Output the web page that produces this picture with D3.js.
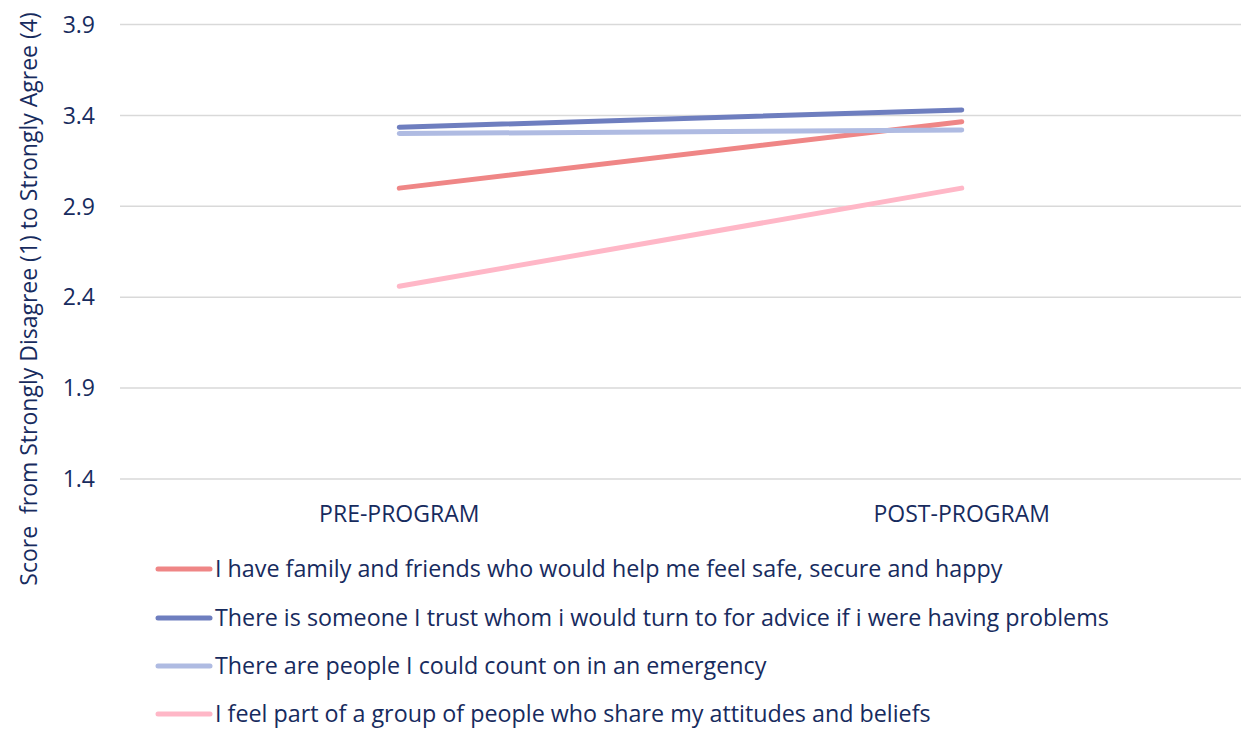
<!DOCTYPE html>
<html>
<head>
<meta charset="utf-8">
<script src="https://cdn.jsdelivr.net/npm/d3@7"></script>
<style>
  html, body { margin: 0; padding: 0; background: #fff; }
  svg text { font-family: "Open Sans", "Noto Sans", sans-serif; fill: #172b5e; }
</style>
</head>
<body>
<script>
// categories and series
const periods = ["PRE-PROGRAM", "POST-PROGRAM"];
const seriesNames = [
  "I have family and friends who would help me feel safe, secure and happy",
  "There is someone I trust whom i would turn to for advice if i were having problems",
  "There are people I could count on in an emergency",
  "I feel part of a group of people who share my attitudes and beliefs",
];
const familyFriends = [3.0, 3.365];
const trustSomeone = [3.335, 3.43];
const countOn = [3.3, 3.32];
const partOfGroup = [2.46, 3.0];
const yTicks = [1.4, 1.9, 2.4, 2.9, 3.4, 3.9];
const colors = ["#ef8686", "#6e7ebf", "#afbbe2", "#ffb7c7"];

const allValues = [familyFriends, trustSomeone, countOn, partOfGroup];
const series = seriesNames.map((name, i) => ({ name, values: allValues[i], color: colors[i] }));

const width = 1241;
const height = 731;
const plot = { left: 118, right: 1243, top: 24.5, bottom: 479 };

const svg = d3.select("body").append("svg").attr("width", width).attr("height", height);

const x = d3.scalePoint().domain(periods).range([plot.left, plot.right]).padding(0.5);
const y = d3.scaleLinear().domain([1.4, 3.9]).range([plot.bottom, plot.top]);

// grid lines
svg.append("g")
  .selectAll("line")
  .data(yTicks)
  .join("line")
  .attr("x1", plot.left + 2)
  .attr("x2", plot.right)
  .attr("y1", (d) => y(d))
  .attr("y2", (d) => y(d))
  .attr("stroke", "#d9d9d9")
  .attr("stroke-width", 1.5);

// y tick labels
svg.append("g")
  .selectAll("text")
  .data(yTicks)
  .join("text")
  .attr("x", 95)
  .attr("y", (d) => y(d))
  .attr("dy", "0.36em")
  .attr("text-anchor", "end")
  .style("font-size", "23px")
  .text((d) => d.toFixed(1));

// category labels
svg.append("g")
  .selectAll("text")
  .data(periods)
  .join("text")
  .attr("x", (d) => x(d))
  .attr("y", 522)
  .attr("text-anchor", "middle")
  .style("font-size", "23px")
  .text((d) => d);

// y axis title
svg.append("text")
  .attr("transform", "translate(29, 299) rotate(-90)")
  .attr("text-anchor", "middle")
  .attr("dy", "0.35em")
  .style("font-size", "23px")
  .style("white-space", "pre")
  .text("Score  from Strongly Disagree (1) to Strongly Agree (4)");

// lines
const line = d3.line()
  .x((d, i) => x(periods[i]))
  .y((d) => y(d));

svg.append("g")
  .selectAll("path")
  .data(series)
  .join("path")
  .attr("fill", "none")
  .attr("stroke", (d) => d.color)
  .attr("stroke-width", 5)
  .attr("stroke-linecap", "round")
  .attr("d", (d) => line(d.values));

// legend
const legendRowY = [569, 618, 666, 714];
const legend = svg.append("g")
  .selectAll("g")
  .data(series)
  .join("g")
  .attr("transform", (d, i) => `translate(0, ${legendRowY[i]})`);

legend.append("line")
  .attr("x1", 158)
  .attr("x2", 210)
  .attr("stroke", (d) => d.color)
  .attr("stroke-width", 5)
  .attr("stroke-linecap", "round");

legend.append("text")
  .attr("x", 215)
  .attr("dy", "0.36em")
  .style("font-size", "23.3px")
  .text((d) => d.name);
</script>
</body>
</html>
